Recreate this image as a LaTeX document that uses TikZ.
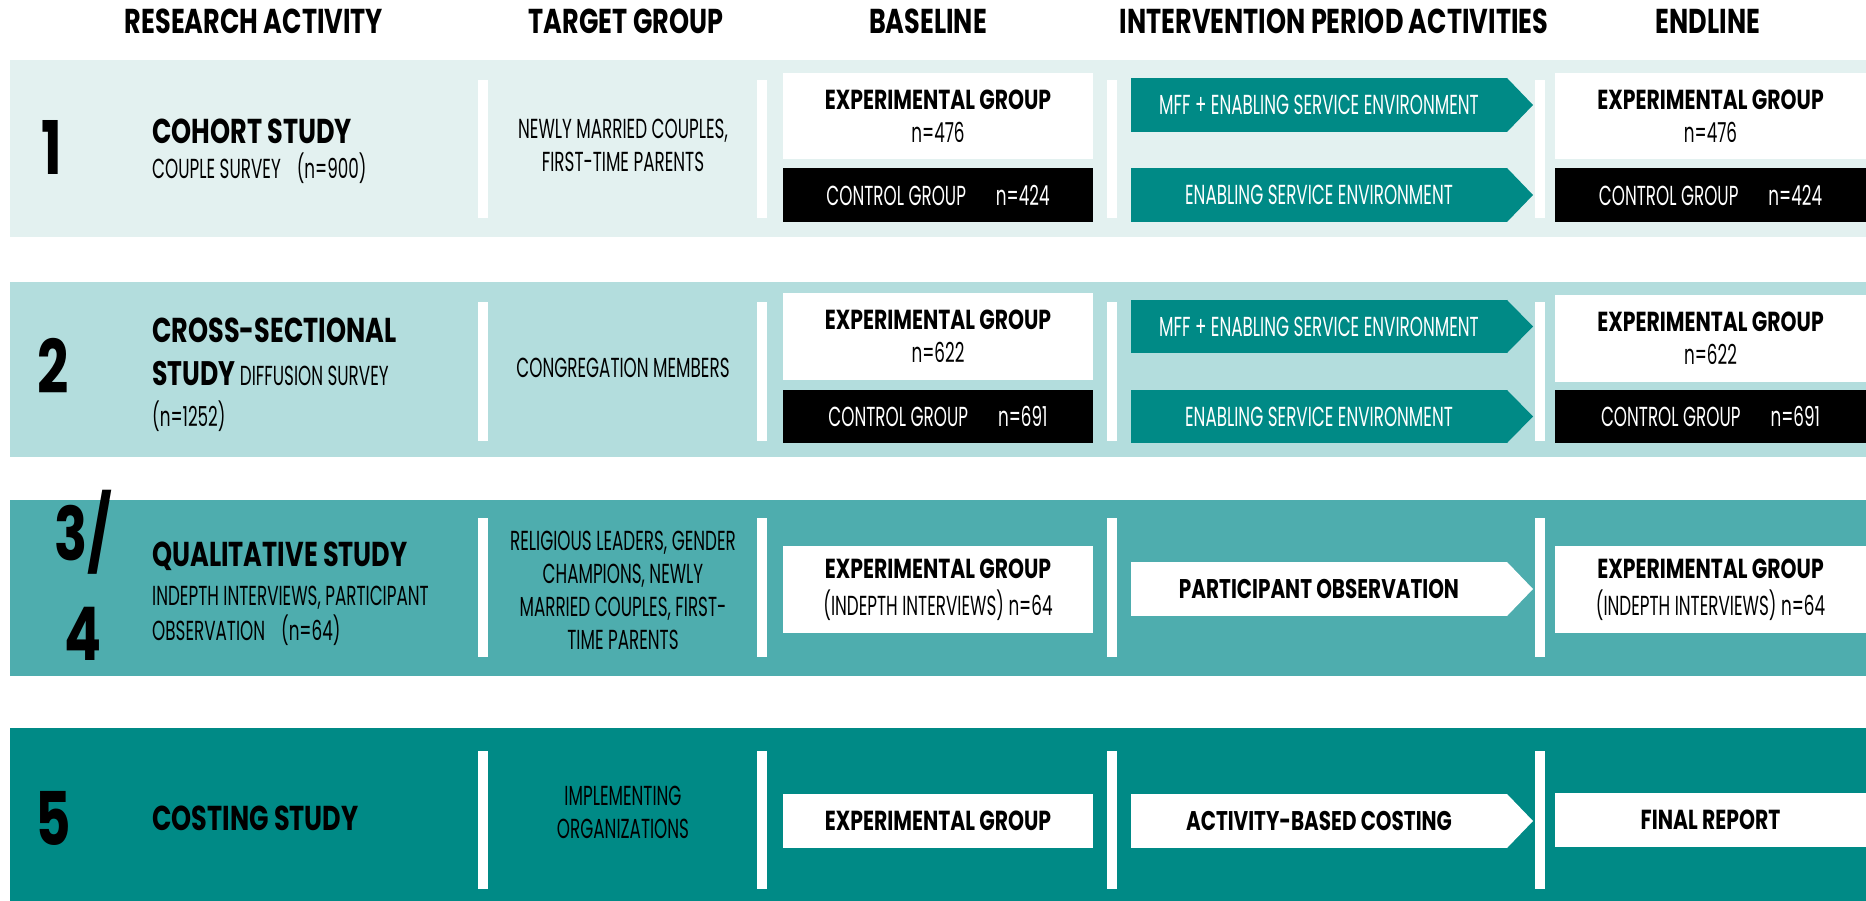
\documentclass[tikz,border=0pt]{standalone}
\usepackage{fontspec}
\setmainfont{Poppins}
\newfontfamily\rgf{Poppins}[FakeStretch=0.61]
\newfontfamily\bdf{Poppins}[FakeStretch=0.74]
\newcommand\bdtxt[1]{{\bdf\bfseries #1}}
\newcommand\bigtitle[1]{{\bdf\bfseries\fontsize{34}{36}\selectfont #1}}
\definecolor{bandA}{HTML}{E3F1F0}
\definecolor{bandB}{HTML}{B3DDDD}
\definecolor{bandC}{HTML}{4EADAE}
\definecolor{bandD}{HTML}{008A86}
\definecolor{arrteal}{HTML}{008A86}
\tikzset{
  band/.style={anchor=north west, inner sep=0, outer sep=0, minimum width=1856},
  vbar/.style={fill=white, anchor=north west, minimum width=10, inner sep=0, outer sep=0},
  wbox/.style={fill=white, text=black, anchor=north west, minimum width=310, inner sep=0, outer sep=0, align=center, font=\rgf\fontsize{27.5}{33}\selectfont},
  kbox/.style={fill=black, text=white, anchor=north west, minimum width=310, minimum height=54, inner sep=0, outer sep=0, font=\rgf\fontsize{27.5}{33}\selectfont},
  tarr/.style={fill=arrteal, text=white, anchor=north west, minimum width=376, minimum height=54, inner sep=0, outer sep=0, font=\rgf\fontsize{27.5}{33}\selectfont},
  warr/.style={fill=white, text=black, anchor=north west, minimum width=376, minimum height=54, inner sep=0, outer sep=0, font=\bdf\bfseries\fontsize{27}{33}\selectfont},
  hdr/.style={font=\bdf\bfseries\fontsize{34.5}{36}\selectfont, anchor=base, inner sep=0},
  ttl/.style={font=\bdf\bfseries\fontsize{34.5}{36}\selectfont, anchor=base west, inner sep=0},
  sub/.style={font=\rgf\fontsize{27.5}{30}\selectfont, anchor=base west, inner sep=0},
  num/.style={font=\bdf\bfseries\fontsize{74}{100}\selectfont, anchor=base, inner sep=0},
  tgt/.style={font=\rgf\fontsize{27.5}{33}\selectfont, align=center, inner sep=0}
}
\begin{document}
\begin{tikzpicture}[x=1pt,y=-1pt]
\useasboundingbox (0,0) rectangle (1866,901);
% headers
\node[hdr] (h1) at (254,34) {RESEARCH ACTIVITY};
\node[hdr] (h2) at (626,34) {TARGET GROUP};
\node[hdr] (h3) at (928,34) {BASELINE};
\node[hdr] (h4) at (1334,34) {INTERVENTION PERIOD ACTIVITIES};
\node[hdr] (h5) at (1708,34) {ENDLINE};
% bands
\node[band, fill=bandA, minimum height=177] (band1) at (10,60) {};
\node[band, fill=bandB, minimum height=175] (band2) at (10,282) {};
\node[band, fill=bandC, minimum height=176] (band3) at (10,500) {};
\node[band, fill=bandD, minimum height=173] (band4) at (10,728) {};
% ---------- row 1
\node[num] (n1) at (52,175) {1};
\node[ttl] (t1a) at (152,144) {COHORT STUDY};
\node[sub] (t1b) at (152,179) {COUPLE SURVEY\hspace{16pt}(n=900)};
\node[vbar, minimum height=138] (v1a) at (478,80) {};
\node[tgt] (g1) at (623,145) {NEWLY MARRIED COUPLES,\\FIRST-TIME PARENTS};
\node[vbar, minimum height=138] (v1b) at (757,80) {};
\node[wbox, minimum height=86] (b1e) at (783,73) {\bdtxt{EXPERIMENTAL GROUP}\\n=476};
\node[kbox] (b1c) at (783,168) {CONTROL GROUP\hspace{30pt}n=424};
\node[vbar, minimum height=138] (v1c) at (1107,80) {};
\node[tarr] (a1e) at (1131,78) {MFF + ENABLING SERVICE ENVIRONMENT};
\fill[arrteal] (a1e.north east) -- ([xshift=26pt]a1e.east) -- (a1e.south east) -- cycle;
\node[tarr] (a1c) at (1131,168) {ENABLING SERVICE ENVIRONMENT};
\fill[arrteal] (a1c.north east) -- ([xshift=26pt]a1c.east) -- (a1c.south east) -- cycle;
\node[vbar, minimum height=138] (v1d) at (1535,80) {};
\node[wbox, minimum height=86, minimum width=311] (e1e) at (1555,73) {\bdtxt{EXPERIMENTAL GROUP}\\n=476};
\node[kbox, minimum width=311] (e1c) at (1555,168) {CONTROL GROUP\hspace{30pt}n=424};
% ---------- row 2
\node[num] (n2) at (53,393) {2};
\node[ttl] (t2a) at (152,342) {CROSS-SECTIONAL};
\node[sub] (t2b) at (152,385) {\bigtitle{STUDY} DIFFUSION SURVEY};
\node[sub] (t2c) at (152,426) {(n=1252)};
\node[vbar, minimum height=139] (v2a) at (478,302) {};
\node[tgt] (g2) at (623,368) {CONGREGATION MEMBERS};
\node[vbar, minimum height=139] (v2b) at (757,302) {};
\node[wbox, minimum height=87] (b2e) at (783,293) {\bdtxt{EXPERIMENTAL GROUP}\\n=622};
\node[kbox, minimum height=53] (b2c) at (783,390) {CONTROL GROUP\hspace{30pt}n=691};
\node[vbar, minimum height=139] (v2c) at (1107,302) {};
\node[tarr, minimum height=53] (a2e) at (1131,300) {MFF + ENABLING SERVICE ENVIRONMENT};
\fill[arrteal] (a2e.north east) -- ([xshift=26pt]a2e.east) -- (a2e.south east) -- cycle;
\node[tarr, minimum height=53] (a2c) at (1131,390) {ENABLING SERVICE ENVIRONMENT};
\fill[arrteal] (a2c.north east) -- ([xshift=26pt]a2c.east) -- (a2c.south east) -- cycle;
\node[vbar, minimum height=139] (v2d) at (1535,302) {};
\node[wbox, minimum height=87, minimum width=311] (e2e) at (1555,295) {\bdtxt{EXPERIMENTAL GROUP}\\n=622};
\node[kbox, minimum height=53, minimum width=311] (e2c) at (1555,390) {CONTROL GROUP\hspace{30pt}n=691};
% ---------- row 3
\node[num] (n3a) at (83,560) {3/};
\node[num] (n3b) at (83,660) {4};
\node[ttl] (t3a) at (152,566) {QUALITATIVE STUDY};
\node[sub] (t3b) at (152,605) {INDEPTH INTERVIEWS, PARTICIPANT};
\node[sub] (t3c) at (152,640) {OBSERVATION\hspace{16pt}(n=64)};
\node[vbar, minimum height=139] (v3a) at (478,518) {};
\node[tgt] (g3) at (623,590) {RELIGIOUS LEADERS, GENDER\\CHAMPIONS, NEWLY\\MARRIED COUPLES, FIRST-\\TIME PARENTS};
\node[vbar, minimum height=139] (v3b) at (757,518) {};
\node[wbox, minimum height=87] (b3e) at (783,546) {\bdtxt{EXPERIMENTAL GROUP}\\[4pt](INDEPTH INTERVIEWS) n=64};
\node[vbar, minimum height=139] (v3c) at (1107,518) {};
\node[warr] (a3) at (1131,562) {PARTICIPANT OBSERVATION};
\fill[white] (a3.north east) -- ([xshift=26pt]a3.east) -- (a3.south east) -- cycle;
\node[vbar, minimum height=139] (v3d) at (1535,518) {};
\node[wbox, minimum height=87, minimum width=311] (e3e) at (1555,546) {\bdtxt{EXPERIMENTAL GROUP}\\[4pt](INDEPTH INTERVIEWS) n=64};
% ---------- row 4
\node[num] (n4) at (53,845) {5};
\node[ttl] (t4a) at (152,830) {COSTING STUDY};
\node[vbar, minimum height=138] (v4a) at (478,751) {};
\node[tgt] (g4) at (623,812) {IMPLEMENTING\\ORGANIZATIONS};
\node[vbar, minimum height=138] (v4b) at (757,751) {};
\node[wbox, minimum height=54] (b4e) at (783,794) {\bdtxt{EXPERIMENTAL GROUP}};
\node[vbar, minimum height=138] (v4c) at (1107,751) {};
\node[warr] (a4) at (1131,794) {ACTIVITY-BASED COSTING};
\fill[white] (a4.north east) -- ([xshift=26pt]a4.east) -- (a4.south east) -- cycle;
\node[vbar, minimum height=138] (v4d) at (1535,751) {};
\node[wbox, minimum height=54, minimum width=311] (e4e) at (1555,793) {\bdtxt{FINAL REPORT}};
\end{tikzpicture}
\end{document}
